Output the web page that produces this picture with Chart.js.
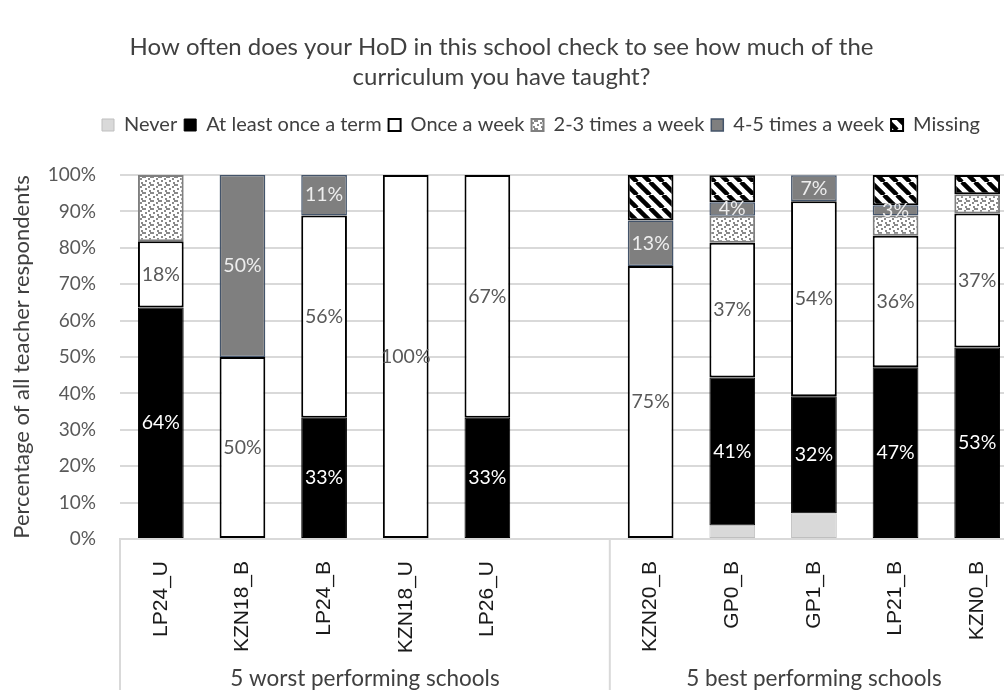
<!DOCTYPE html>
<html>
<head>
<meta charset="utf-8">
<script src="https://cdn.jsdelivr.net/npm/chart.js@4.4.1/dist/chart.umd.min.js"></script>
<style>
  html, body { margin: 0; padding: 0; background: #fff; overflow: hidden; }
  #wrap { position: relative; width: 1018px; height: 690px; }
</style>
</head>
<body>
<div id="wrap"><canvas id="hodChart"></canvas></div>
<script>

// schools, with an empty slot between the two groups
var schools = ["LP24_U", "KZN18_B", "LP24_B", "KZN18_U", "LP26_U", "", "KZN20_B", "GP0_B", "GP1_B", "LP21_B", "KZN0_B"];
var groups = ["5 worst performing schools", "5 best performing schools"];

// % of teacher respondents per answer
var never      = [0,    0,  0,    0,   0,    null, 0,    3.7,  7.1,  0,    0];
var onceTerm   = [63.6, 0,  33.3, 0,   33.3, null, 0,    40.7, 32.1, 47.2, 52.6];
var onceWeek   = [18.2, 50, 55.6, 100, 66.7, null, 75,   37.0, 53.6, 36.1, 36.8];
var twoThree   = [18.2, 0,  0,    0,   0,    null, 0,    7.4,  0,    5.6,  5.3];
var fourFive   = [0,    50, 11.1, 0,   0,    null, 12.5, 3.7,  7.1,  2.8,  0];
var missing    = [0,    0,  0,    0,   0,    null, 12.5, 7.4,  0,    8.3,  5.3];

var yTicks = [0, 10, 20, 30, 40, 50, 60, 70, 80, 90, 100];

function stripePattern() {
	var c = document.createElement("canvas");
	c.width = 13; c.height = 13;
	var g = c.getContext("2d");
	g.fillStyle = "#fff";
	g.fillRect(0, 0, 13, 13);
	g.strokeStyle = "#000";
	g.lineWidth = 4.5;
	[-13, 0, 13].forEach(function (x) {
		g.beginPath();
		g.moveTo(x, 0);
		g.lineTo(x + 13, 13);
		g.stroke();
	});
	return g.createPattern(c, "repeat");
}

function dotPattern() {
	var c = document.createElement("canvas");
	c.width = 8; c.height = 8;
	var g = c.getContext("2d");
	g.fillStyle = "#fff";
	g.fillRect(0, 0, 8, 8);
	g.fillStyle = "#8a8a8a";
	[[0, 0], [4, 2], [1, 4], [5, 6], [6, 0]].forEach(function (p) {
		g.fillRect(p[0], p[1], 2, 2);
	});
	return g.createPattern(c, "repeat");
}

// value labels inside the segments
var segmentLabels = {
	id: "segmentLabels",
	afterDatasetsDraw: function (chart) {
		var ctx = chart.ctx;
		chart.data.datasets.forEach(function (ds, i) {
			if (!ds.labelColor) return;
			var meta = chart.getDatasetMeta(i);
			meta.data.forEach(function (bar, j) {
				var v = ds.data[j];
				if (!v) return;
				ctx.save();
				ctx.font = "19.5px Lato";
				ctx.fillStyle = ds.labelColor;
				ctx.textAlign = "center";
				ctx.textBaseline = "middle";
				ctx.fillText(Math.round(v) + "%", bar.x, (bar.y + bar.base) / 2);
				ctx.restore();
			});
		});
	}
};

// group captions and separators under the school names,
// plus some room under the legend and a nudge for title/legend
var groupAxis = {
	id: "groupAxis",
	afterInit: function (chart) {
		var fit = chart.legend.fit;
		chart.legend.fit = function () {
			fit.call(this);
			this.height += 30;
		};
	},
	afterLayout: function (chart) {
		chart.titleBlock.right = 1003;
		chart.legend.left = 95;
	},
	afterDraw: function (chart) {
		var ctx = chart.ctx, area = chart.chartArea, x = chart.scales.x;
		var step = x.getPixelForValue(1) - x.getPixelForValue(0);
		var split = x.getPixelForValue(5) + step / 2;
		ctx.save();
		ctx.strokeStyle = "#d9d9d9";
		ctx.lineWidth = 2;
		[area.left, split, area.right].forEach(function (px) {
			ctx.beginPath();
			ctx.moveTo(px, area.bottom);
			ctx.lineTo(px, chart.height);
			ctx.stroke();
		});
		ctx.font = "22.5px Lato";
		ctx.fillStyle = "#404040";
		ctx.textAlign = "center";
		ctx.textBaseline = "middle";
		ctx.fillText(groups[0], (area.left + split) / 2, 679);
		ctx.fillText(groups[1], (split + area.right) / 2, 679);
		ctx.restore();
	}
};

var ctx = document.getElementById("hodChart").getContext("2d");

function series(label, data, fill, border, width, labelColor) {
	return {
		label: label,
		data: data,
		backgroundColor: fill,
		borderColor: border,
		borderWidth: width,
		borderSkipped: false,
		labelColor: labelColor
	};
}

var hodChart = new Chart(ctx, {
	type: "bar",
	data: {
		labels: schools,
		datasets: [
			series("Never", never, "#d9d9d9", "#bfbfbf", 1, null),
			series("At least once a term", onceTerm, "#000", "#000", 1, "#fff"),
			series("Once a week", onceWeek, "#fff", "#000", 2, "#595959"),
			series("2-3 times a week", twoThree, dotPattern(), "#7f7f7f", 2, null),
			series("4-5 times a week", fourFive, "#7f7f7f", "#44546a", 1.5, "#eeeeee"),
			series("Missing", missing, stripePattern(), "#000", 2, null)
		]
	},
	options: {
		responsive: true,
		maintainAspectRatio: false,
		animation: false,
		datasets: { bar: { categoryPercentage: 1, barPercentage: 0.56 } },
		layout: { padding: 0 },
		plugins: {
			title: {
				display: true,
				text: ["How often does your HoD in this school check to see how much of the", "curriculum you have taught?"],
				font: { family: "Lato", size: 24, weight: "normal", lineHeight: 1.25 },
				color: "#404040",
				padding: { top: 32, bottom: 16 }
			},
			legend: {
				align: "start",
				labels: {
					font: { family: "Lato", size: 20 },
					color: "#404040",
					boxWidth: 12,
					boxHeight: 12,
					padding: 7
				}
			},
			tooltip: { enabled: false }
		},
		scales: {
			x: {
				stacked: true,
				grid: { display: false },
				border: { color: "#d9d9d9", width: 2 },
				ticks: {
					autoSkip: false,
					minRotation: 90,
					maxRotation: 90,
					padding: 14,
					color: "#1a1a1a",
					font: { family: "Liberation Sans", size: 21 }
				},
				afterFit: function (scale) { scale.height = 151; }
			},
			y: {
				stacked: true,
				min: 0,
				max: 100,
				grid: { color: "#d9d9d9", lineWidth: 2, drawTicks: false },
				border: { display: false },
				afterBuildTicks: function (scale) {
					scale.ticks = yTicks.map(function (v) { return { value: v }; });
				},
				ticks: {
					padding: 24,
					color: "#595959",
					font: { family: "Lato", size: 19 },
					callback: function (v) { return v + "%"; }
				},
				title: {
					display: true,
					text: "Percentage of all teacher respondents",
					color: "#404040",
					font: { family: "Lato", size: 22 },
					padding: { top: 9 }
				},
				afterFit: function (scale) { scale.width = 120; }
			}
		}
	},
	plugins: [segmentLabels, groupAxis]
});
</script>
</body>
</html>
